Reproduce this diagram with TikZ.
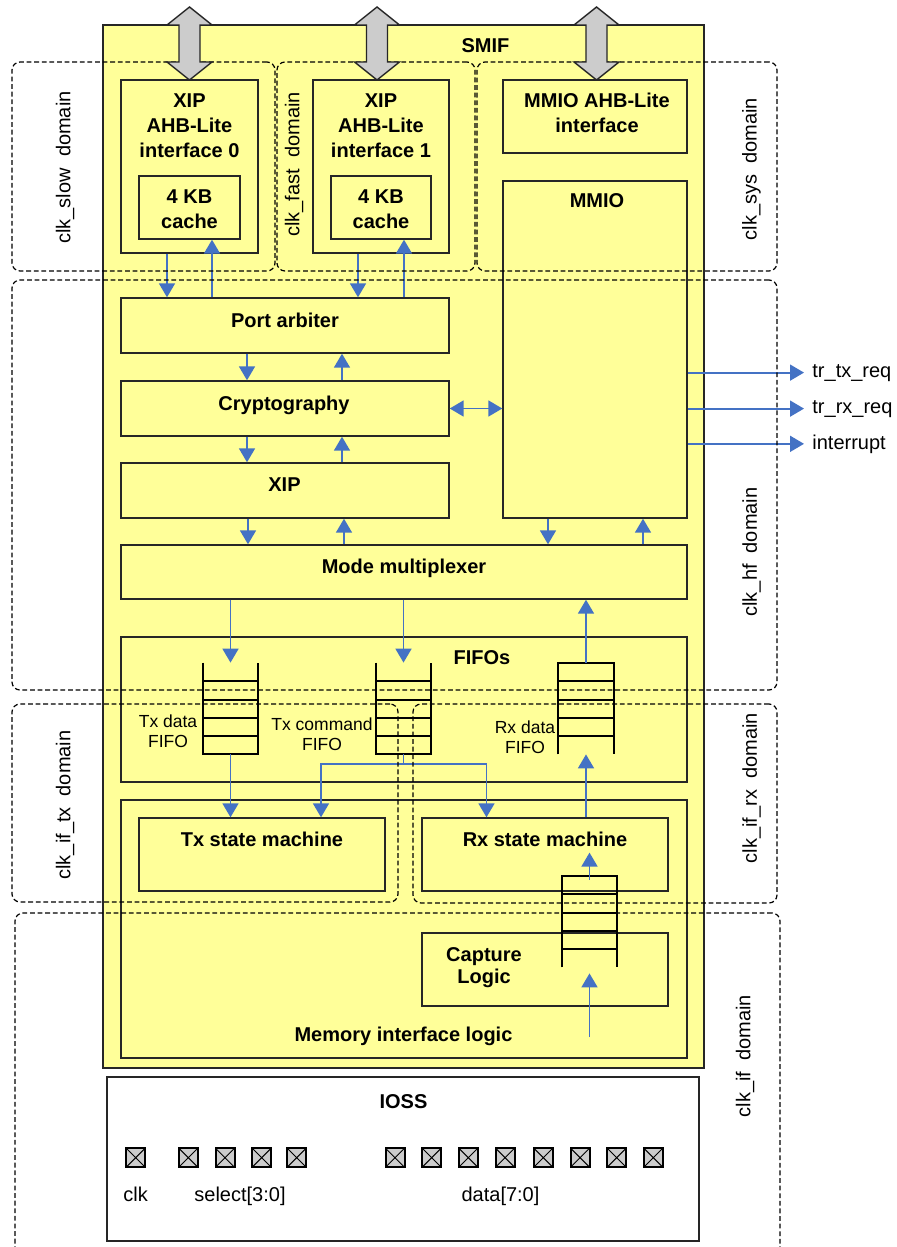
\documentclass[tikz,border=0pt]{standalone}
\usepackage{fontspec}
\setmainfont{Liberation Sans}
\usepackage{tikz}
\usetikzlibrary{arrows.meta, fit}
\definecolor{smifyel}{RGB}{255,255,153}
\definecolor{sigblue}{RGB}{68,114,196}
\definecolor{padgray}{RGB}{204,204,204}
\tikzset{
  blk/.style    ={draw=black!85, fill=smifyel, line width=0.7pt, inner sep=0pt},
  iobox/.style  ={draw=black!85, fill=white, line width=0.7pt, inner sep=0pt},
  dom/.style    ={draw, dash pattern=on 2.4pt off 1.4pt, rounded corners=4pt, line width=0.6pt, inner sep=0pt},
  bt/.style     ={font=\fontsize{10}{12.5}\selectfont\bfseries, inner sep=0pt, align=center},
  rt/.style     ={font=\fontsize{10}{12.5}\selectfont, inner sep=0pt, align=center},
  ft/.style     ={font=\fontsize{8.75}{10}\selectfont, inner sep=0pt, align=center},
  domlbl/.style ={font=\fontsize{10}{12.5}\selectfont, inner sep=0pt, rotate=90},
  sig/.style    ={-{Triangle[length=7pt, width=8pt]}, sigblue, line width=0.9pt},                 % signal path
  sigboth/.style={{Triangle[length=7pt, width=8pt]}-{Triangle[length=7pt, width=8pt]}, sigblue, line width=0.9pt},
  fifo/.style   ={line width=1pt},
  bus/.style    ={draw=black!85, fill=padgray, line width=0.7pt},                              % AHB bus arrow
  pad/.style    ={draw, fill=padgray, line width=1pt, minimum size=9.5pt, inner sep=0pt,
                  path picture={\draw[line width=0.5pt] (path picture bounding box.north west) -- (path picture bounding box.south east)
                                (path picture bounding box.north east) -- (path picture bounding box.south west);}},
}

\begin{document}
\begin{tikzpicture}[x=0.5pt, y=-0.5pt]
  \useasboundingbox (0,0) rectangle (896,1247);

  % SMIF and IOSS
  \node[blk, fit={(103,25) (704,1068)}] (smif) {};
  \node[iobox, fit={(107,1077) (699,1241)}] (ioss) {};
  \node[bt, anchor=base] (smifT) at (485.5,53) {SMIF};

  % AHB-Lite interfaces
  \node[blk, fit={(121,80) (258,253)}]  (xip0)   {};
  \node[blk, fit={(139,176) (240,239)}] (cache0) {};
  \node[blk, fit={(313,80) (449,253)}]  (xip1)   {};
  \node[blk, fit={(331,176) (431,239)}] (cache1) {};
  \node[blk, fit={(503,80) (687,153)}]  (mmioif) {};
  \node[blk, fit={(503,181) (687,518)}] (mmio)   {};

  % datapath
  \node[blk, fit={(121,298) (449,353)}] (arb)    {};
  \node[blk, fit={(121,381) (449,436)}] (crypto) {};
  \node[blk, fit={(121,463) (449,518)}] (xipc)   {};
  \node[blk, fit={(121,545) (687,599)}] (mux)    {};
  \node[blk, fit={(121,637) (687,782)}] (fifos)  {};
  \node[blk, fit={(121,800) (687,1058)}] (mil)   {};
  \node[blk, fit={(139,818) (385,891)}] (txsm)   {};
  \node[blk, fit={(422,818) (668,891)}] (rxsm)   {};
  \node[blk, fit={(422,933) (668,1006)}] (capt)  {};

  % FIFO stacks
  \node[fit={(203,663) (258,754)}, inner sep=0pt]   (txdf) {};
  \node[fit={(376,663) (431,754)}, inner sep=0pt]   (txcf) {};
  \node[fit={(558.5,663) (613.5,754)}, inner sep=0pt] (rxdf) {};
  \node[fit={(562,876) (617,967)}, inner sep=0pt]   (capf) {};
  \draw[fifo] (txdf.north west) -- (txdf.south west) -- (txdf.south east) -- (txdf.north east)
    (203,681) -- (258,681) (203,700) -- (258,700) (203,718) -- (258,718) (203,736) -- (258,736);
  \draw[fifo] (txcf.north west) -- (txcf.south west) -- (txcf.south east) -- (txcf.north east)
    (376,681) -- (431,681) (376,700) -- (431,700) (376,718) -- (431,718) (376,736) -- (431,736);
  \draw[fifo] (rxdf.south west) -- (rxdf.north west) -- (rxdf.north east) -- (rxdf.south east)
    (558.5,681) -- (613.5,681) (558.5,700) -- (613.5,700) (558.5,718) -- (613.5,718) (558.5,736) -- (613.5,736);
  \draw[fifo] (capf.south west) -- (capf.north west) -- (capf.north east) -- (capf.south east)
    (562,894) -- (617,894) (562,913) -- (617,913) (562,931) -- (617,931) (562,949) -- (617,949);

  % block texts
  \node[bt, anchor=north] (xip0T)   at (189.5,93) {XIP\\AHB-Lite\\interface 0};
  \node[bt, anchor=north] (cache0T) at (189.5,189) {4 KB\\cache};
  \node[bt, anchor=north] (xip1T)   at (381,93) {XIP\\AHB-Lite\\interface 1};
  \node[bt, anchor=north] (cache1T) at (381,189) {4 KB\\cache};
  \node[bt, anchor=north] (mmioifT) at (597,93) {MMIO AHB-Lite\\interface};
  \node[bt, anchor=base]  (mmioT)   at (597,207) {MMIO};
  \node[bt, anchor=base]  (arbT)    at (285,327) {Port arbiter};
  \node[bt, anchor=base]  (cryptoT) at (284,410) {Cryptography};
  \node[bt, anchor=base]  (xipcT)   at (284.5,491) {XIP};
  \node[bt, anchor=base]  (muxT)    at (404,573) {Mode multiplexer};
  \node[bt, anchor=base]  (fifosT)  at (482,664) {FIFOs};
  \node[ft, anchor=north] (txdfT)   at (168,714.5) {Tx data\\FIFO};
  \node[ft, anchor=north] (txcfT)   at (322,717.5) {Tx command\\FIFO};
  \node[ft, anchor=north] (rxdfT)   at (525,720.5) {Rx data\\FIFO};
  \node[bt, anchor=base]  (txsmT)   at (262,846) {Tx state machine};
  \node[bt, anchor=base]  (rxsmT)   at (545,846) {Rx state machine};
  \node[bt, anchor=north] (captT)   at (484,947.5) {Capture\\[-1.5pt]Logic};
  \node[bt, anchor=base]  (milT)    at (403.5,1041) {Memory interface logic};
  \node[bt, anchor=base]  (iossT)   at (403.5,1108) {IOSS};

  % pads
  \node[pad] (clkP) at (135.7,1157.7) {};
  \node[pad] (sel3) at (188.3,1157.7) {};
  \node[pad] (sel2) at (225,1157.7) {};
  \node[pad] (sel1) at (261.7,1157.7) {};
  \node[pad] (sel0) at (296.7,1157.7) {};
  \node[pad] (dat7) at (395,1157.7) {};
  \node[pad] (dat6) at (431.7,1157.7) {};
  \node[pad] (dat5) at (468.3,1157.7) {};
  \node[pad] (dat4) at (505,1157.7) {};
  \node[pad] (dat3) at (543.3,1157.7) {};
  \node[pad] (dat2) at (580,1157.7) {};
  \node[pad] (dat1) at (616.7,1157.7) {};
  \node[pad] (dat0) at (653.3,1157.7) {};
  \node[rt, anchor=base] (clkT)  at (135.7,1201) {clk};
  \node[rt, anchor=base] (selT)  at (240,1201) {select[3:0]};
  \node[rt, anchor=base] (dataT) at (500.5,1201) {data[7:0]};

  % signal arrows
  \draw[sig] (xip0.south -| 167,0) -- (arb.north -| 167,0);
  \draw[sig] (arb.north -| 212,0) -- (cache0.south -| 212,0);
  \draw[sig] (xip1.south -| 358,0) -- (arb.north -| 358,0);
  \draw[sig] (arb.north -| 404,0) -- (cache1.south -| 404,0);
  \draw[sig] (arb.south -| 247,0) -- (crypto.north -| 247,0);
  \draw[sig] (crypto.north -| 342,0) -- (arb.south -| 342,0);
  \draw[sig] (crypto.south -| 247,0) -- (xipc.north -| 247,0);
  \draw[sig] (xipc.north -| 342,0) -- (crypto.south -| 342,0);
  \draw[sig] (xipc.south -| 248,0) -- (mux.north -| 248,0);
  \draw[sig] (mux.north -| 344,0) -- (xipc.south -| 344,0);
  \draw[sig] (mmio.south -| 548,0) -- (mux.north -| 548,0);
  \draw[sig] (mux.north -| 643,0) -- (mmio.south -| 643,0);
  \draw[sigboth] (crypto.east) -- (crypto.east -| mmio.west);

  \node[rt, anchor=base west] (txreq) at (812,377) {tr\_tx\_req};
  \node[rt, anchor=base west] (rxreq) at (812,413) {tr\_rx\_req};
  \node[rt, anchor=base west] (irq)   at (812,449) {interrupt};
  \draw[sig] (mmio.east |- txreq.west) -- ([xshift=-4pt]txreq.west);
  \draw[sig] (mmio.east |- rxreq.west) -- ([xshift=-4pt]rxreq.west);
  \draw[sig] (mmio.east |- irq.west) -- ([xshift=-4pt]irq.west);

  \draw[sig] (mux.south -| txdf.north) -- (txdf.north);
  \draw[sig] (mux.south -| txcf.north) -- (txcf.north);
  \draw[sig] (rxdf.north) -- (rxdf.north |- mux.south);
  \draw[sig] (txdf.south) -- (txdf.south |- txsm.north);
  \coordinate (split) at (403.5,764);
  \draw[sig] (txcf.south) -- (split) -| (txsm.north -| 321,0);
  \draw[sig] (split) -| (rxsm.north -| 486.5,0);
  \draw[sig] (rxdf.south |- rxsm.north) -- (rxdf.south);
  \draw[sig] ([yshift=-2pt]capf.north) -- ++(0,-27);
  \coordinate (pins) at (589.5,1037);
  \draw[sig] (pins) -- ([yshift=-3pt]capf.south);

  % clock domains
  \node[dom, fit={(12,62) (275,271)}]   (dslow) {};
  \node[dom, fit={(277,62) (475,271)}]  (dfast) {};
  \node[dom, fit={(477,62) (777,271)}]  (dsys)  {};
  \node[dom, fit={(12,280) (777,690)}]  (dhf)   {};
  \node[dom, fit={(12,704) (398,902)}]  (diftx) {};
  \node[dom, fit={(413,704) (777,903)}] (difrx) {};
  \node[dom, fit={(15,913) (780,1265)}] (dif)   {};
  \node[domlbl] (dslowT) at (65,167.5)  {clk\_slow\ \ domain};
  \node[domlbl] (dfastT) at (294,164.5) {clk\_fast\ \ domain};
  \node[domlbl] (dsysT)  at (751.5,169) {clk\_sys\ \ domain};
  \node[domlbl] (dhfT)   at (751.5,552) {clk\_hf\ \ domain};
  \node[domlbl] (diftxT) at (65,805)    {clk\_if\_tx\ \ domain};
  \node[domlbl] (difrxT) at (751.5,788) {clk\_if\_rx\ \ domain};
  \node[domlbl] (difT)   at (745,1056)  {clk\_if\ \ domain};

  % AHB buses
  \draw[bus] (189.5,7) -- ++(22.5,18) -- ++(-12,0) -- ++(0,37) -- ++(12,0) -- ++(-22.5,18)
    -- ++(-22.5,-18) -- ++(12,0) -- ++(0,-37) -- ++(-12,0) -- cycle;
  \draw[bus] (377,7) -- ++(22.5,18) -- ++(-12,0) -- ++(0,37) -- ++(12,0) -- ++(-22.5,18)
    -- ++(-22.5,-18) -- ++(12,0) -- ++(0,-37) -- ++(-12,0) -- cycle;
  \draw[bus] (596.5,7) -- ++(22.5,18) -- ++(-12,0) -- ++(0,37) -- ++(12,0) -- ++(-22.5,18)
    -- ++(-22.5,-18) -- ++(12,0) -- ++(0,-37) -- ++(-12,0) -- cycle;
\end{tikzpicture}
\end{document}
